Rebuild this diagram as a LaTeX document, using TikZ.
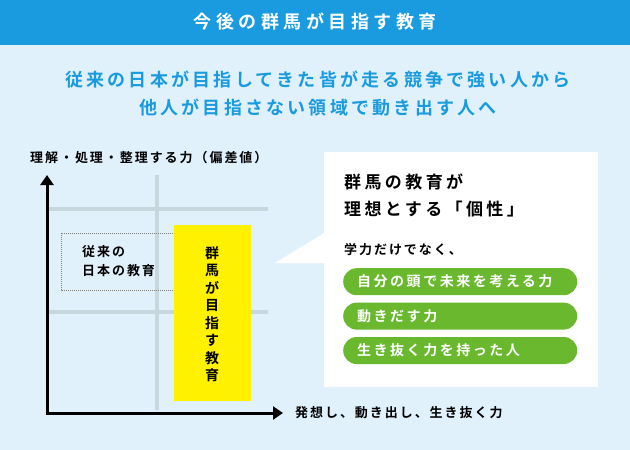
\documentclass[tikz,border=0pt]{standalone}
\usepackage{fontspec}
\setmainfont{Noto Sans CJK JP}[BoldFont={* Bold}]
\usetikzlibrary{arrows.meta,positioning}
\definecolor{headblue}{RGB}{26,155,224}
\definecolor{paleblue}{RGB}{224,241,251}
\definecolor{gridgray}{RGB}{200,214,222}
\definecolor{pillgreen}{RGB}{106,184,46}
\definecolor{markyellow}{RGB}{255,241,0}
\newcommand{\spaced}[1]{\addfontfeature{LetterSpace=#1}}
\tikzset{
  gridline/.style={gridgray,line width=4.5pt},
  axisline/.style={line width=3pt,-{Triangle[length=10pt,width=13pt]}},
  pill/.style={fill=pillgreen,rounded corners=13.5pt,minimum width=234pt,minimum height=27pt,
    text=white,font=\bfseries\fontsize{14}{14}\selectfont\spaced{18},inner xsep=14pt,align=left,text width=206pt},
  lbl/.style={font=\bfseries\fontsize{13}{15}\selectfont\spaced{15},inner sep=0pt}
}
\begin{document}
\begin{tikzpicture}[x=1pt,y=-1pt]
\useasboundingbox (0,0) rectangle (630,450);
% background and header
\fill[paleblue] (0,0) rectangle (630,45);
\fill[paleblue] (0,0) rectangle (630,450);
\fill[headblue] (0,0) rectangle (630,45);
\node[text=white,font=\bfseries\fontsize{18}{18}\selectfont\spaced{25}] (head) at (315,22) {今後の群馬が目指す教育};
\node[text=headblue,font=\bfseries\fontsize{18}{28}\selectfont\spaced{18},align=center] (sub) at (318,94)
  {従来の日本が目指してきた皆が走る競争で強い人から\\他人が目指さない領域で動き出す人へ};
% chart grid
\draw[gridline] (47,209) -- (268,209);
\draw[gridline] (47,312) -- (268,312);
\draw[gridline] (157,175) -- (157,410);
% axes
\coordinate (orig) at (47,413);
\coordinate (ytip) at (47,175);
\coordinate (xtip) at (283,413);
\draw[axisline] (orig) -- (ytip);
\draw[axisline] ([xshift=-1.5pt]orig) -- (xtip);
\node[lbl,anchor=west] (ylab) at (30,158) {理解・処理・整理する力（偏差値）};
\node[lbl,anchor=west] (xlab) at (295,413) {発想し、動き出し、生き抜く力};
% conventional education
\draw[gray,densely dotted,line width=1pt] (61,233) rectangle (239,290);
\node[lbl,align=left,anchor=west,font=\bfseries\fontsize{13}{19}\selectfont\spaced{15}] (old) at (82,261) {従来の\\日本の教育};
% yellow band
\fill[markyellow] (174,225) rectangle (251,401);
\node[lbl,align=center,font=\bfseries\fontsize{14}{17.5}\selectfont] (gunma) at (212,314)
  {群\\馬\\が\\目\\指\\す\\教\\育};
% callout
\fill[white] (324,152) rectangle (598,387);
\fill[white] (324,233) -- (275,263) -- (324,263) -- cycle;
\node[anchor=north west,align=left,font=\bfseries\fontsize{17}{27}\selectfont\spaced{20},inner sep=0pt] (ctitle) at (344,174)
  {群馬の教育が\\理想とする「個性」};
\node[lbl,anchor=west] (gaku) at (344,250) {学力だけでなく、};
\node[pill,anchor=north west] (p1) at (343,268) {自分の頭で未来を考える力};
\node[pill,below=7pt of p1] (p2) {動きだす力};
\node[pill,below=7pt of p2] (p3) {生き抜く力を持った人};
\end{tikzpicture}
\end{document}
